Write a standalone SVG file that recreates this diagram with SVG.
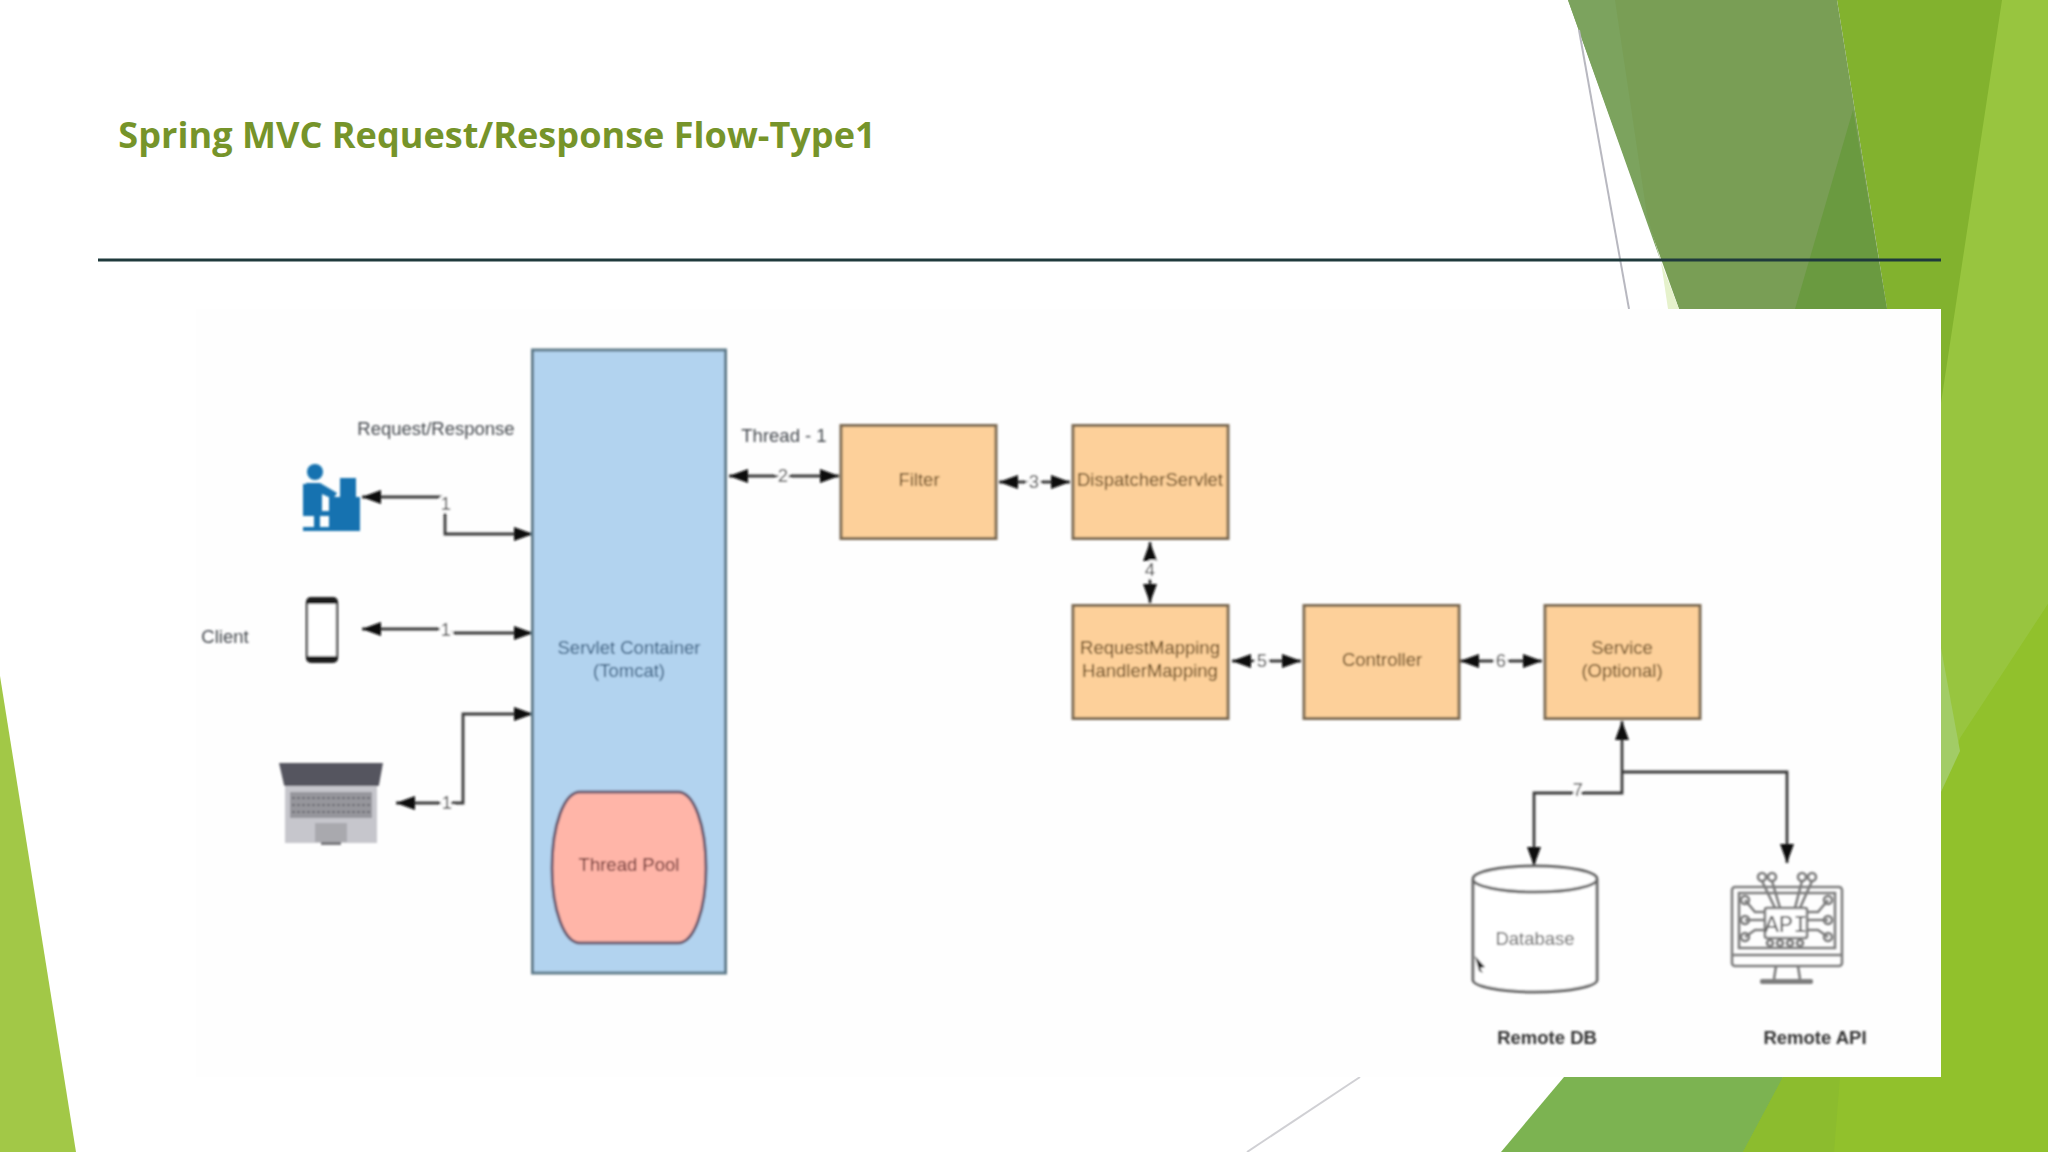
<svg xmlns="http://www.w3.org/2000/svg" width="2048" height="1152" viewBox="0 0 2048 1152">
<style>
text{font-family:"Liberation Sans",Arial,sans-serif;font-size:18.500px;text-anchor:middle}
.box{fill:#fdd09a;stroke:#7b6b52;stroke-width:3}
.boxt{fill:#634518}
.lab{fill:#44484e}
.num{fill:#404040;paint-order:stroke;stroke:#fefefe;stroke-width:6px}
.bold{font-weight:bold;fill:#333}
.conn{fill:none;stroke:#3a3a3a;stroke-width:2.800;marker-start:url(#a);marker-end:url(#a)}
.one{fill:none;stroke:#3a3a3a;stroke-width:2.800}
.api{fill:none;stroke:#7d7d7d;stroke-width:2.600}
</style>
<defs>
<marker id="a" markerUnits="userSpaceOnUse" markerWidth="20" markerHeight="16" refX="19" refY="7" orient="auto-start-reverse"><path d="M0,0L19,7L0,14Z" fill="#0c0c0c"/></marker>
<filter id="soft" x="-2%" y="-2%" width="104%" height="104%"><feGaussianBlur stdDeviation="0.8"/></filter>
</defs>
<g id="background">
<rect width="2048" height="1152" fill="#fff"/>
<polygon points="0,676 76,1152 0,1152" fill="#a2c847"/>
<polygon points="1837,0 2048,0 2048,1152 1700,1152 1783,1077 1941,1077 1941,309 1887,309" fill="#82b22e"/>
<polygon points="2002,0 2048,0 2048,1152 1743,1152 1783,1077 1941,1077 1941,403" fill="#98c53f"/>
<polygon points="2048,604 1960,751 1941,792 1941,1077 1783,1077 1743,1152 2048,1152" fill="#91c12c"/>
<polygon points="2048,604 1960,738 1941,792 2048,792" fill="#91c12c"/>
<polygon points="1941,648 1960,751 1941,792" fill="#a2cc66"/>
<polygon points="1568,0 1837,0 1887,309 1679,309" fill="#799e55"/>
<polygon points="1568,0 1615,0 1647,215 1661,262" fill="#7ca35e"/>
<polygon points="1853,110 1887,309 1795,309" fill="#6a9a40"/>
<polygon points="1661,262 1679,309 1668,309" fill="#e6f2cc"/>
<polygon points="1564,1077 1783,1077 1743,1152 1501,1152" fill="#7cb351"/>
<polygon points="1783,1077 1840,1077 1834,1152 1743,1152" fill="#8cbc2e"/>
<line x1="1579" y1="30" x2="1629" y2="309" stroke="#b8b8c0" stroke-width="2"/>
<line x1="1360" y1="1077" x2="1247" y2="1152" stroke="#d0d0d4" stroke-width="2"/>
<rect x="196" y="309" width="1745" height="768" fill="#fefefe"/>
<line x1="98" y1="260" x2="1941" y2="260" stroke="#1f3a3c" stroke-width="3"/>
<text x="497" y="148" style="font-family:'Open Sans','Liberation Sans',sans-serif;font-size:36.100px;font-weight:bold;fill:#76942a">Spring MVC Request/Response Flow-Type1</text>
</g>
<g id="diagram" filter="url(#soft)">
<g id="connectors">
<path class="conn" d="M362,497H445V534H533"/>
<path class="conn" d="M362,629H445V633H533"/>
<path class="conn" d="M396,803H463V714H533"/>
<path class="conn" d="M729,476H839"/>
<path class="conn" d="M999,482H1070"/>
<path class="conn" d="M1150,542V603"/>
<path class="conn" d="M1232,661H1301"/>
<path class="conn" d="M1460,661H1542"/>
<path class="conn" d="M1534,866V793H1622V721"/>
<path class="one" d="M1622,772H1787V863" marker-end="url(#a)"/>
<text class="num" x="446" y="510">1</text>
<text class="num" x="446" y="636">1</text>
<text class="num" x="447" y="809">1</text>
<text class="num" x="783" y="482">2</text>
<text class="num" x="1034" y="488">3</text>
<text class="num" x="1150" y="576">4</text>
<text class="num" x="1262" y="667">5</text>
<text class="num" x="1501" y="667">6</text>
<text class="num" x="1578" y="796">7</text>
</g>
<g id="label-request"><text class="lab" x="436" y="435">Request/Response</text></g>
<g id="label-client"><text class="lab" x="225" y="643">Client</text></g>
<g id="label-thread"><text class="lab" x="784" y="442">Thread - 1</text></g>
<g id="client-desktop" fill="#1272b0">
<circle cx="315" cy="472" r="8"/>
<path d="M306,483H320L337,493L333,499L322,494V512H306Z"/>
<rect x="303" y="484" width="4" height="28"/>
<rect x="340" y="478" width="16" height="19"/>
<rect x="329" y="497" width="31" height="34"/>
<rect x="303" y="511" width="26" height="5"/>
<rect x="314" y="514" width="6" height="14"/>
<rect x="303" y="527" width="26" height="4"/>
</g>
<g id="client-phone">
<rect x="307" y="598" width="30" height="64" rx="4" fill="#fff" stroke="#1a1a1a" stroke-width="2.200"/>
<rect x="307" y="598" width="30" height="6" rx="3" fill="#1a1a1a"/>
<rect x="307" y="656" width="30" height="6" rx="3" fill="#1a1a1a"/>
</g>
<g id="client-laptop">
<path d="M279,763H383L379,785Q378,787 372,787H290Q285,787 284,785Z" fill="#55555f"/>
<rect x="285" y="786" width="92" height="57" fill="#c6c6cc"/>
<rect x="290" y="792" width="82" height="26" fill="#96969c"/>
<path d="M292,798H370M292,805H370M292,812H370" stroke="#6e6e74" stroke-width="2" stroke-dasharray="3 2" fill="none"/>
<rect x="315" y="823" width="32" height="19" fill="#a9a9ae"/>
<rect x="321" y="842" width="20" height="3" fill="#77777c"/>
</g>
<g id="servlet-container">
<rect x="532.500" y="350" width="193" height="623" fill="#b2d3ef" stroke="#5f7a8a" stroke-width="3"/>
<text x="629" y="654" fill="#2f587c">Servlet Container</text>
<text x="629" y="677" fill="#2f587c">(Tomcat)</text>
</g>
<g id="thread-pool">
<path d="M580,792H678C694,792 706,825 706,868C706,910 694,943 678,943H580C564,943 552,910 552,868C552,825 564,792 580,792Z" fill="#ffb5a8" stroke="#6a5a70" stroke-width="3"/>
<text x="629" y="871" fill="#662c2c">Thread Pool</text>
</g>
<g id="filter"><rect class="box" x="841" y="425.500" width="155" height="113"/><text class="boxt" x="919" y="486">Filter</text></g>
<g id="dispatcher-servlet"><rect class="box" x="1073" y="425.500" width="155" height="113"/><text class="boxt" x="1150" y="486">DispatcherServlet</text></g>
<g id="request-mapping"><rect class="box" x="1073" y="605.500" width="155" height="113"/><text class="boxt" x="1150" y="654">RequestMapping</text><text class="boxt" x="1150" y="677">HandlerMapping</text></g>
<g id="controller"><rect class="box" x="1304" y="605.500" width="155" height="113"/><text class="boxt" x="1382" y="666">Controller</text></g>
<g id="service"><rect class="box" x="1545" y="605.500" width="155" height="113"/><text class="boxt" x="1622" y="654">Service</text><text class="boxt" x="1622" y="677">(Optional)</text></g>
<g id="database">
<path d="M1473,880V980C1473,986 1500,992 1535,992C1570,992 1597,986 1597,980V880" fill="#fff" stroke="#666" stroke-width="3"/>
<ellipse cx="1535" cy="879" rx="62" ry="13" fill="#fff" stroke="#666" stroke-width="3"/>
<text x="1535" y="945" fill="#606060">Database</text>
<polygon points="1475,956 1485,967 1480,968 1483,973 1479,971" fill="#222"/>
</g>
<g id="remote-api">
<rect x="1732" y="887" width="110" height="79" rx="3" class="api"/>
<path class="api" d="M1739,893H1835V948H1739ZM1732,955H1842M1776,966L1774,979M1798,966L1800,979"/>
<rect x="1760" y="979" width="53" height="5" rx="2" fill="#7d7d7d"/>
<rect x="1765" y="908" width="42" height="30" rx="2" fill="#fff" stroke="#7d7d7d" stroke-width="2.600"/>
<text x="1786" y="932" style="font-family:'Liberation Mono',monospace;font-size:24px;fill:#5e5e5e">API</text>
<path class="api" d="M1762,881L1775,908M1772,881L1780,908M1802,881L1795,908M1812,881L1800,908M1745,900L1755,912H1765M1745,920H1765M1745,937L1755,930H1765M1828,900L1818,912H1807M1828,920H1807M1828,937L1818,930H1807"/>
<g class="api"><circle cx="1762" cy="877" r="4"/><circle cx="1772" cy="877" r="4"/><circle cx="1802" cy="877" r="4"/><circle cx="1812" cy="877" r="4"/><circle cx="1770" cy="943" r="3"/><circle cx="1780" cy="943" r="3"/><circle cx="1790" cy="943" r="3"/><circle cx="1800" cy="943" r="3"/><circle cx="1745" cy="900" r="4"/><circle cx="1745" cy="920" r="4"/><circle cx="1745" cy="937" r="4"/><circle cx="1828" cy="900" r="4"/><circle cx="1828" cy="920" r="4"/><circle cx="1828" cy="937" r="4"/></g>
</g>
<g id="label-remote-db"><text class="bold" x="1547" y="1044">Remote DB</text></g>
<g id="label-remote-api"><text class="bold" x="1815" y="1044">Remote API</text></g>
</g>
</svg>
